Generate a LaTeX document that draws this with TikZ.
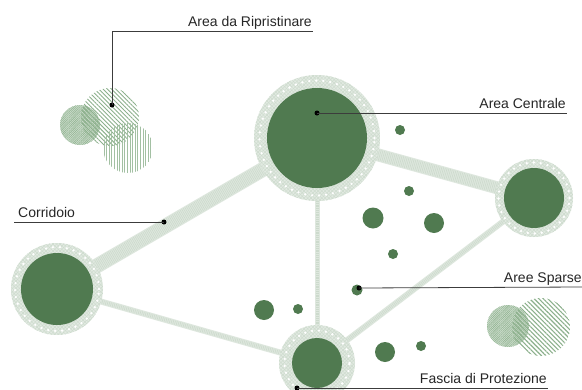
\documentclass[tikz,border=0pt]{standalone}
\usepackage{fontspec}
\setmainfont{Liberation Sans}
\usetikzlibrary{patterns,patterns.meta}
\definecolor{dkgreen}{RGB}{80,122,80}
\definecolor{halofill}{RGB}{226,234,226}
\definecolor{halohatch}{RGB}{206,220,206}
\definecolor{corr}{RGB}{222,231,222}
\definecolor{corrline}{RGB}{204,218,204}
\definecolor{hatchgreen}{RGB}{140,176,140}
\definecolor{softgreen}{RGB}{176,202,176}
\definecolor{leader}{RGB}{60,60,60}
\tikzset{
  core/.style={circle, fill=dkgreen, inner sep=0pt},
  speck/.style={circle, fill=dkgreen, inner sep=0pt},
  corridor/.style={draw=corr, line cap=butt},
  pin/.style={circle, fill=black, inner sep=0pt, minimum size=5pt},
  lbl/.style={font=\fontsize{14}{16}\selectfont, inner sep=0pt, text=black!85},
  leaderline/.style={draw=leader, line width=0.8pt},
}
\begin{document}
\begin{tikzpicture}[x=1pt,y=-1pt]
\useasboundingbox (0,0) rectangle (582,389);
% main node positions
\coordinate (Cc) at (317,138);
\coordinate (Lc) at (57,289);
\coordinate (Rc) at (534,198);
\coordinate (Bc) at (317,363);
% corridors
\draw[corridor, line width=15pt] (Lc) -- (Cc);
\draw[corridor, line width=13pt] (Cc) -- (Rc);
\draw[corridor, line width=6pt] (Lc) -- (Bc);
\draw[corridor, line width=6pt] (Bc) -- (Rc);
\draw[corridor, line width=5pt] (Cc) -- (Bc);
\foreach \a/\b/\w in {Lc/Cc/13, Cc/Rc/11, Lc/Bc/4, Bc/Rc/4, Cc/Bc/3}{
  \draw[draw=corrline, line width=\w pt, dash pattern=on 0.6pt off 1.2pt] (\a) -- (\b);
}
% halos
\foreach \p/\r/\c in {Cc/63/50, Lc/46/36, Rc/39/30, Bc/38/25}{
  \pgfmathsetmacro\rr{(\r+\c)/2+1}
  \fill[halofill] (\p) circle (\r pt);
  \fill[pattern={Lines[angle=45,distance=2.5pt,line width=0.5pt]}, pattern color=halohatch] (\p) circle (\r pt);
  \fill[pattern={Lines[angle=-45,distance=2.5pt,line width=0.5pt]}, pattern color=halohatch] (\p) circle (\r pt);
  \draw[white, line width=2.6pt, line cap=round, dash pattern=on 0pt off 7pt] (\p) circle (\rr pt);
}
% cores
\node[core, minimum size=100pt] (cen) at (Cc) {};
\node[core, minimum size=72pt] (left) at (Lc) {};
\node[core, minimum size=60pt] (right) at (Rc) {};
\node[core, minimum size=50pt] (bot) at (Bc) {};
% sparse areas
\node[speck, minimum size=10pt] (s1) at (400,130) {};
\node[speck, minimum size=10pt] (s2) at (409,191) {};
\node[speck, minimum size=21pt] (s3) at (373,218) {};
\node[speck, minimum size=20pt] (s4) at (434,223) {};
\node[speck, minimum size=10pt] (s5) at (393,254) {};
\node[speck, minimum size=11pt] (s6) at (357,290) {};
\node[speck, minimum size=20pt] (s7) at (264,310) {};
\node[speck, minimum size=10pt] (s8) at (298,309) {};
\node[speck, minimum size=20pt] (s9) at (385,352) {};
\node[speck, minimum size=10pt] (s10) at (421,346) {};
% restoration areas (top left)
\fill[softgreen, opacity=0.6] (80,125) circle (20pt);
\fill[pattern={Lines[angle=45,distance=1.3pt,line width=0.45pt]}, pattern color=hatchgreen] (80,125) circle (20pt);
\fill[pattern={Lines[angle=-45,distance=3pt,line width=0.9pt]}, pattern color=hatchgreen] (110,117) circle (29pt);
\fill[pattern={Lines[angle=90,distance=2.6pt,line width=0.9pt]}, pattern color=hatchgreen!80] (128,148) circle (25pt);
% bottom right hatched areas
\fill[softgreen, opacity=0.6] (508,326) circle (21pt);
\fill[pattern={Lines[angle=45,distance=1.3pt,line width=0.45pt]}, pattern color=hatchgreen] (508,326) circle (21pt);
\fill[pattern={Lines[angle=-45,distance=3.2pt,line width=1.1pt]}, pattern color=hatchgreen] (541,327) circle (29pt);
% labels
\node[lbl, anchor=base east] (tRip) at (312,26) {Area da Ripristinare};
\node[lbl, anchor=base east] (tCen) at (566,108) {Area Centrale};
\node[lbl, anchor=base west] (tCor) at (18,217) {Corridoio};
\node[lbl, anchor=base east] (tSpa) at (582,282) {Aree Sparse};
\node[lbl, anchor=base east] (tFas) at (547,383) {Fascia di Protezione};
\coordinate (eRip) at (313,31);
\coordinate (eCen) at (567,113);
\coordinate (eCor) at (14,222);
\coordinate (eSpa) at (582,287);
\coordinate (eFas) at (548,388);
\node[pin] (pRip) at (112,105) {};
\node[pin] (pCen) at (317,113) {};
\node[pin] (pCor) at (164,222) {};
\node[pin] (pSpa) at (359,288) {};
\node[pin] (pFas) at (297,388) {};
\draw[leaderline] (pRip.center) |- (eRip);
\draw[leaderline] (pCen.center) -- (eCen);
\draw[leaderline] (pCor.center) -- (eCor);
\draw[leaderline] (pSpa.center) -- (eSpa);
\draw[leaderline] (pFas.center) -- (eFas);
\end{tikzpicture}
\end{document}
